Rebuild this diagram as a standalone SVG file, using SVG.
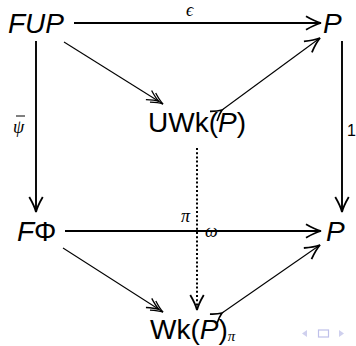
<svg xmlns="http://www.w3.org/2000/svg" width="356" height="346" viewBox="0 0 356 346">
<defs>
<style>
.obj{font-family:"Liberation Sans",Arial,sans-serif;font-size:28px;fill:#000}
.it{font-style:italic}
.lab{font-family:"Liberation Serif","DejaVu Serif",serif;font-style:italic;font-size:18px;fill:#000}
.sub{font-family:"Liberation Serif","DejaVu Serif",serif;font-style:italic;font-size:15px;fill:#000}
.num{font-family:"Liberation Sans",Arial,sans-serif;font-size:16px;fill:#000}
.thick{stroke:#000;stroke-width:1.9;fill:none}
.thin{stroke:#000;stroke-width:1.1;fill:none}
.dot{stroke:#000;stroke-width:2;stroke-dasharray:2 2.2;fill:none}
.nav{fill:#cfd0ee}
</style>
<marker id="head" markerUnits="userSpaceOnUse" markerWidth="24" markerHeight="24" viewBox="-14 -8 16 16" refX="0" refY="0" orient="auto" overflow="visible">
<path d="M-10,-4.5 Q-4,-1 0,0 Q-4,1 -10,4.5" fill="none" stroke="#000" stroke-width="1.2"/>
</marker>
<marker id="head2" markerUnits="userSpaceOnUse" markerWidth="24" markerHeight="24" viewBox="-18 -8 20 16" refX="0" refY="0" orient="auto" overflow="visible">
<path d="M-10,-4.5 Q-4,-1 0,0 Q-4,1 -10,4.5 M-14,-4.5 Q-8,-1 -4,0 Q-8,1 -14,4.5" fill="none" stroke="#000" stroke-width="1.1"/>
</marker>
<marker id="tail" markerUnits="userSpaceOnUse" markerWidth="24" markerHeight="24" viewBox="-14 -8 16 16" refX="0" refY="0" orient="auto" overflow="visible">
<path d="M-7,-4 Q-3,-1 0,0 Q-3,1 -7,4" fill="none" stroke="#000" stroke-width="1.1"/>
</marker>
</defs>
<g id="connectors">
<line class="thick" x1="74" y1="23" x2="321" y2="23" marker-end="url(#head)"/>
<text class="lab" x="186" y="16">ϵ</text>
<line class="thick" x1="36" y1="41" x2="36" y2="212" marker-end="url(#head)"/>
<text class="lab" x="13" y="133">ψ</text>
<line x1="16" y1="116" x2="25" y2="116" stroke="#000" stroke-width="1"/>
<line class="thick" x1="342" y1="41" x2="342" y2="212" marker-end="url(#head)"/>
<text class="num" x="347" y="136">1</text>
<line class="thin" x1="64" y1="42" x2="163" y2="104" marker-end="url(#head2)"/>
<line class="thin" x1="222" y1="110" x2="320" y2="38" marker-start="url(#tail)" marker-end="url(#head)"/>
<line class="thick" x1="65" y1="231" x2="321" y2="231" marker-end="url(#head)"/>
<text class="lab" x="205" y="237">ω</text>
<line class="dot" x1="197" y1="148" x2="197" y2="310" marker-end="url(#head)"/>
<text class="lab" x="181" y="222">π</text>
<line class="thin" x1="63" y1="248" x2="163" y2="312" marker-end="url(#head2)"/>
<line class="thin" x1="222" y1="313" x2="320" y2="245" marker-start="url(#tail)" marker-end="url(#head)"/>
</g>
<g id="FUP"><text class="obj it" x="8" y="33">FUP</text></g>
<g id="P1"><text class="obj it" x="323" y="33">P</text></g>
<g id="UWkP"><text class="obj" x="197" y="132" text-anchor="middle">UWk(<tspan class="it">P</tspan>)</text></g>
<g id="FPhi"><text class="obj" x="17" y="241"><tspan class="it">F</tspan>Φ</text></g>
<g id="P2"><text class="obj it" x="326" y="241">P</text></g>
<g id="WkPpi"><text class="obj" x="150" y="339">Wk(<tspan class="it">P</tspan>)<tspan class="sub" dy="2">π</tspan></text></g>
<g id="nav">
<polygon class="nav" points="307,330 307,337 302,333.5"/>
<rect x="318.5" y="330" width="10" height="7" fill="none" stroke="#bfc0ea" stroke-width="1.2"/>
<polygon class="nav" points="339,330 339,337 344,333.5"/>
</g>
</svg>
